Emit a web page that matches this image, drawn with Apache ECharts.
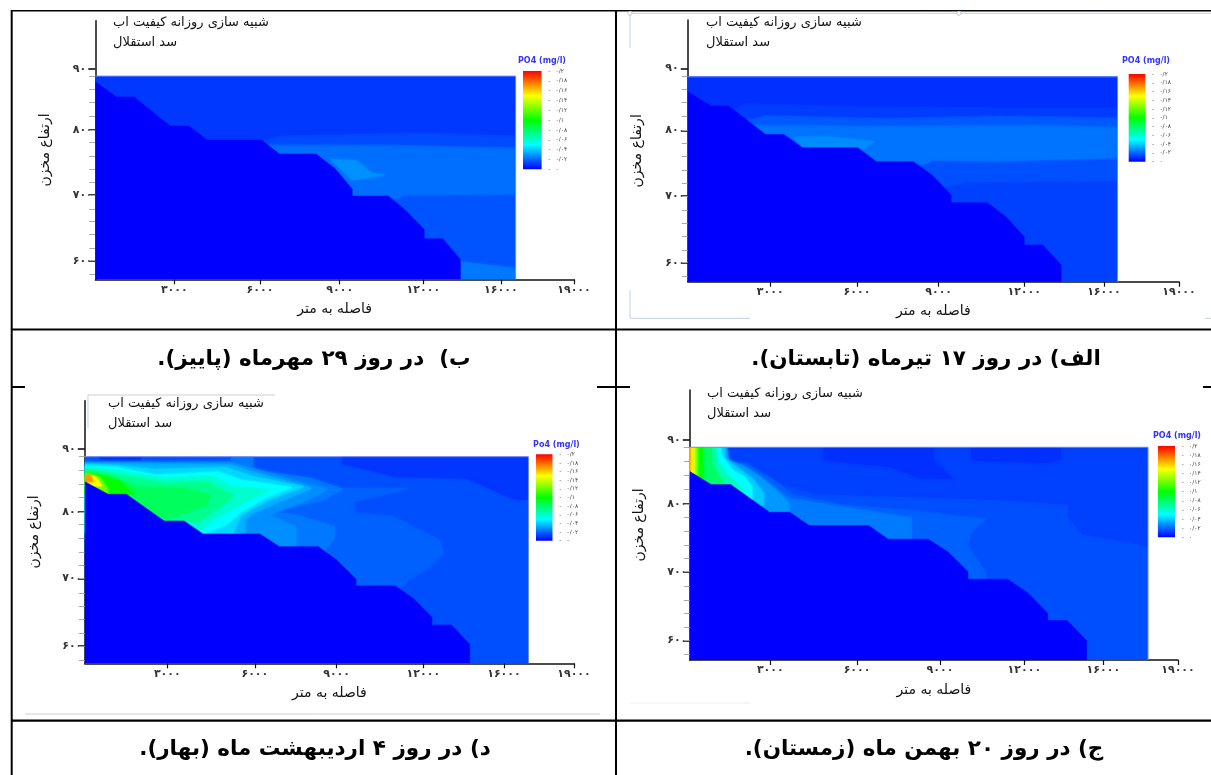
<!DOCTYPE html>
<html dir="rtl">
<head>
<meta charset="utf-8">
<style>html,body{margin:0;padding:0;background:#fff}#c{width:1211px;height:775px}</style>
<script src="https://cdn.jsdelivr.net/npm/echarts@6/dist/echarts.min.js"></script>
</head>
<body>
<div id="c"></div>
<script>
// ---------- texts ----------
const xTickLabels = ['۳۰۰۰','۶۰۰۰','۹۰۰۰','۱۲۰۰۰','۱۶۰۰۰','۱۹۰۰۰'];
const yTickLabels = ['۶۰','۷۰','۸۰','۹۰'];
const yTickValues = [60,70.3,80.4,90];
const yMinorValues = [57.9,60,62,64.1,66.1,68.1,70.3,72.3,74.3,76.4,78.5,80.4,82.6,84.7,86.8,88.85];
const legendValues = [0,0.02,0.04,0.06,0.08,0.1,0.12,0.14,0.16,0.18,0.2];
const legendLabels = ['۰','۰/۰۲','۰/۰۴','۰/۰۶','۰/۰۸','۰/۱','۰/۱۲','۰/۱۴','۰/۱۶','۰/۱۸','۰/۲'];
const xName = 'فاصله به متر', yName = 'ارتفاع مخزن';
const title1 = 'شبیه سازی روزانه کیفیت اب', title2 = 'سد استقلال';
const captionA = 'الف) در روز ۱۷ تیرماه (تابستان).';
const captionB = 'ب)  در روز ۲۹ مهرماه (پاییز).';
const captionC = 'ج) در روز ۲۰ بهمن ماه (زمستان).';
const captionD = 'د) در روز ۴ اردیبهشت ماه (بهار).';

// ---------- x tick positions along each panel's axis ----------
const xTicksA = [3180,6525,9675,12975,16050,18945];
const xTicksB = [3045,6345,9420,12645,15630,18450];
const xTicksC = [3105,6450,9645,12900,15945,18825];
const xTicksD = [3180,6555,9705,13050,16155,18855];

// ---------- bed profile of the reservoir [distance, elevation, ...] ----------
const bedA = [0,86.4, 900,84.19, 1575,84.19, 3000,79.8, 3705,79.8, 4425,77.76, 6555,77.76, 7275,75.6, 8700,75.6, 9420,73.54, 10155,70.45, 10155,69.26, 11550,69.26, 12270,67.1, 12975,64, 12975,62.73, 13695,62.73, 14400,59.64, 14400,57.07, 0,57.07];
const bedB = [0,87.97, 825,85.57, 1500,85.57, 2880,81.04, 3600,81.04, 4305,78.85, 6405,78.85, 7095,76.67, 8505,76.67, 9225,74.43, 9900,71.2, 9900,70.1, 11295,70.1, 11925,68.02, 12675,64.9, 12675,63.44, 13395,63.44, 14070,60.2, 14070,57.1, 0,57.1];
const bedC = [0,85.26, 825,83.32, 1575,83.32, 3075,79.18, 3855,79.18, 4605,77.19, 6900,77.19, 7650,75.15, 9195,75.15, 9945,73.3, 10725,70.31, 10725,69.17, 12255,69.17, 13050,67.08, 13800,64.09, 13800,62.99, 14550,62.99, 15300,60, 15300,57.1, 0,57.1];
const bedD = [0,85.03, 900,83.1, 1605,83.1, 3060,79.04, 3825,79.04, 4560,77.06, 6750,77.06, 7500,75.13, 9000,75.13, 9705,73.1, 10455,70.15, 10455,69.14, 11955,69.14, 12660,67.26, 13380,64.37, 13380,63.2, 14130,63.2, 14835,60.25, 14835,57.36, 0,57.36];

// ---------- PO4 regions: [concentration, [distance, elevation, ...]] painted in order ----------
const bandsA = [
 [0.0125,[0,57.07,16575,57.07,16575,88.7,0,88.7]],
 [0.0157,[0,70.96,9000,70.96,10200,71.99,10800,72.5,13500,72.6,16575,72.66,16575,88.7,0,88.7]],
 [0.0225,[0,75.2,8000,75.2,9150,75.23,9450,75.85,12000,75.7,16575,76.21,16575,88.7,0,88.7]],
 [0.0275,[4125,79.35,5400,79.45,7200,78.68,6750,77.65,4425,77.65]],
 [0.0176,[0,81.4,2000,81.4,2775,81.41,7500,81.26,13500,81.41,16575,81.1,16575,88.7,0,88.7]],
 [0.012,[0,82.28,2400,82.28,3000,82.9,7500,82.44,12000,82.8,16575,82.54,16575,88.7,0,88.7]],
 [0.0094,[0,83.67,1725,83.67,2175,84.7,6000,84.34,12000,84.09,16575,84.09,16575,88.7,0,88.7]]
];
const bandsB = [
 [0.0165,[0,57.1,16200,57.1,16200,88.85,0,88.85]],
 [0.0235,[14070,59.84,16200,58.8,16200,57.1,14070,57.1]],
 [0.0215,[0,69.74,11625,69.74,11925,70.26,16200,70.42,16200,88.85,0,88.85]],
 [0.0285,[9075,75.83,10050,75.63,10650,73.75,11175,73.39,9900,72.6]],
 [0.0147,[0,78.23,6975,78.23,11325,78.23,16200,77.81,16200,88.85,0,88.85]],
 [0.011,[0,78.85,6405,78.85,7125,79.64,12675,80.16,16200,79.64,16200,88.85,0,88.85]]
];
const bandsC = [
 [0.0155,[0,57.1,17670,57.1,17670,88.9,0,88.9]],
 [0.0125,[0,88.9,17670,88.9,17670,74.2,15150,76,14625,78.4,14625,80.4,11925,81.1,8925,81.5,6675,81.75,4875,82,3525,83.5,2625,85.5,1425,86.5,0,86.5]],
 [0.0094,[5175,88.9,9375,88.9,9375,87,10125,84.25,8925,84.25,7725,86,5175,87]],
 [0.0094,[10875,88.9,14295,88.9,14295,87.1,13800,86.6,10875,87]],
 [0.019,[11400,69.2,11400,70.3,10725,74.05,10800,76,11400,78.1,8925,79.27,5925,80.25,3975,81.75,3225,84,2175,86.5,0,86.5,0,69.2]],
 [0.024,[8550,75.1,8550,78.3,6225,79.75,3825,81.25,3075,83.5,2025,86.25,0,86.25,0,75.1]],
 [0.03,[0,88.9,1425,88.9,1500,87,2100,86,2700,84.5,3300,82.5,3825,80.5,3825,79.18,0,79.18]],
 [0.04,[0,88.9,1350,88.9,1350,87.25,1875,85.75,2400,84.25,2850,82,2850,80.25,0,80.25]],
 [0.05,[0,88.9,1200,88.9,1200,87.75,1650,85.5,2100,84.5,2400,83,2400,81,0,81]],
 [0.065,[0,88.9,1005,88.9,1050,87,1425,84.75,1725,83.75,2100,82,0,82]],
 [0.08,[0,88.9,855,88.9,855,86.5,1125,84.5,1425,83,0,83]],
 [0.1,[0,88.9,495,88.9,495,84,0,84]],
 [0.12,[0,88.9,300,88.9,300,84.5,0,84.5]],
 [0.14,[0,88.9,195,88.9,195,84.75,0,84.75]],
 [0.15,[0,88.9,105,88.9,105,85,0,85]],
 [0.165,[0,88.9,30,88.9,30,85.2,0,85.2]]
];
const bandsD = [
 [0.0155,[0,57.36,17100,57.36,17100,88.83,0,88.83]],
 [0.0105,[9930,88.83,17100,88.83,17100,82.34,16530,82.4,14730,85.53,12000,85.8,9930,87.8]],
 [0.011,[555,88.83,2205,88.83,2205,87.5,555,87.5]],
 [0.0165,[0,88.83,555,88.83,555,87.5,0,87.5]],
 [0.0165,[2205,88.83,5655,88.83,5655,87.5,2205,87.5]],
 [0.024,[5655,88.83,6480,88.83,6480,87.2,5655,87.5]],
 [0.019,[12255,69.04,12480,70.05,13230,71.83,13830,74.11,13680,76.14,11880,79.7,10380,80.2,10380,81.98,12480,84.01,9930,84.01,8130,85.28,6480,86.8,5730,87.82,0,88.1,0,69.04]],
 [0.0235,[9180,74.37,9630,76.4,9630,78.17,8130,79.95,7230,80.46,9180,82.23,9930,83.9,8730,85.53,6480,86.8,5730,88.07,0,88,0,74.37]],
 [0.028,[8130,75.13,8130,78.17,7080,79.95,8580,82.23,9330,83.86,8280,85.03,6480,87.05,5730,87.9,0,87.9,0,75.13]],
 [0.0345,[6180,77.06,6180,79.19,6480,80.2,8130,82.99,8730,84.01,7830,85.03,6330,86.7,5655,87.6,0,87.8,0,77.06]],
 [0.042,[5700,77.06,6030,79.95,7080,82.23,8430,84.26,6480,85.8,5430,87.2,2730,86.9,1230,87.5,0,87.7,0,77.06]],
 [0.05,[0,87.41,1230,87.21,2730,86.04,5130,86.55,6030,85.28,7980,84.16,6930,82.49,6030,80.46,5430,78.43,4560,77.06,0,77.06]],
 [0.06,[0,87.21,1230,86.71,3030,85.53,4830,85.79,5730,84.26,7080,83.76,6630,83,5580,80.71,4830,78.94,4380,77.47,0,77.47]],
 [0.072,[0,86.91,1230,86.04,3180,84.77,4680,85.03,5430,83.5,5730,83,5130,80.97,4380,78.94,3780,79.04,0,79.04]],
 [0.082,[0,86.55,930,85.79,2130,84.16,3780,84.01,4830,82.99,4680,81.47,3780,80.2,3180,79.44,2730,79.7,1680,83.1,0,83.1]],
 [0.1,[0,86.3,700,86,1400,85,1900,83.1,0,83.1]],
 [0.12,[0,86.3,555,85.69,855,84.26,900,83.1,0,83.1]],
 [0.15,[0,85.89,405,85.79,660,84.37,0,84.37]],
 [0.17,[0,86,210,86.04,330,85.03,0,85.03]]
];

// ---------- colour scale of the model legend ----------
const scaleStops = [[0,[0,0,255]],[0.05,[0,255,255]],[0.1,[0,255,0]],[0.15,[255,255,0]],[0.2,[255,0,0]]];
function po4Colour(v){
  for(let i=1;i<scaleStops.length;i++){
    if(v<=scaleStops[i][0]){
      const a=scaleStops[i-1],b=scaleStops[i],t=(v-a[0])/(b[0]-a[0]);
      return 'rgb('+a[1].map((c,k)=>Math.round(c+(b[1][k]-c)*t)).join(',')+')';
    }
  }
  return 'rgb(255,0,0)';
}

// ---------- layout (pixels) ----------
const panels = [
 {bands:bandsB,bed:bedB,ticks:xTicksB,xMax:18450,yMin:57.1,yMax:97.5,l:95.3,r:574,t:20.7,b:279.3,titleX:113,titleY:[16,36],
  legName:'PO4 (mg/l)',legX:542,legY:62,barL:523,barR:541.6,barT:71,barB:169.3,caption:captionB,capX:314,capY:357},
 {bands:bandsA,bed:bedA,ticks:xTicksA,xMax:18945,yMin:57.07,yMax:97.47,l:687.8,r:1179,t:20,b:281.7,titleX:706,titleY:[16,36],
  legName:'PO4 (mg/l)',legX:1146,legY:62,barL:1128.7,barR:1145.4,barT:74,barB:161.7,caption:captionA,capX:926,capY:357},
 {bands:bandsD,bed:bedD,ticks:xTicksD,xMax:18855,yMin:57.36,yMax:97.36,l:84.8,r:574,t:400.7,b:663.3,titleX:108,titleY:[397,417],
  legName:'Po4 (mg/l)',legX:556.4,legY:445.7,barL:536,barR:552.5,barT:454.3,barB:540.7,caption:captionD,capX:315,capY:747},
 {bands:bandsC,bed:bedC,ticks:xTicksC,xMax:18825,yMin:57.1,yMax:97.46,l:689.8,r:1178,t:390,b:660,titleX:707,titleY:[387,407],
  legName:'PO4 (mg/l)',legX:1177,legY:437,barL:1157.9,barR:1175,barT:446,barB:537.3,caption:captionC,capX:924,capY:747}
];
const xMinorFractions = [0.118,0.272,0.427,0.581,0.728,0.874];
const FONT = '"DejaVu Sans"';
const W = 1211, H = 775;

const option = {animation:false,backgroundColor:'#fff',grid:[],xAxis:[],yAxis:[],series:[],title:[]};

panels.forEach(p=>{
  const g = option.grid.length;
  option.grid.push({left:p.l,top:p.t,width:p.r-p.l,height:p.b-p.t,containLabel:false});
  const x0 = option.xAxis.length, y0 = option.yAxis.length;
  const xLabel = v => { const i=p.ticks.indexOf(v); return i<0?'':xTickLabels[i]; };
  const yLabel = v => { const i=yTickValues.indexOf(v); return i<0?'':yTickLabels[i]; };
  option.xAxis.push({
    type:'value',gridIndex:g,min:0,max:p.xMax,position:'bottom',
    name:xName,nameLocation:'middle',nameGap:23,
    nameTextStyle:{fontFamily:FONT,fontSize:14,color:'#111'},
    axisLine:{show:true,onZero:false,lineStyle:{color:'#111',width:1.5}},
    axisTick:{show:true,length:5,customValues:p.ticks,lineStyle:{color:'#111',width:1.2}},
    axisLabel:{show:true,customValues:p.ticks,formatter:xLabel,margin:5,fontFamily:FONT,fontSize:11,fontWeight:'bold',color:'#333',hideOverlap:false,showMinLabel:true,showMaxLabel:true},
    splitLine:{show:false}
  });
  option.xAxis.push({
    type:'value',gridIndex:g,min:0,max:p.xMax,position:'bottom',
    axisLine:{show:false},axisLabel:{show:false},splitLine:{show:false},
    axisTick:{show:true,inside:true,length:2,customValues:xMinorFractions.map(f=>f*p.xMax),lineStyle:{color:'#333',width:1}}
  });
  option.yAxis.push({
    type:'value',gridIndex:g,min:p.yMin,max:p.yMax,position:'left',
    name:yName,nameLocation:'middle',nameGap:43,nameRotate:90,
    nameTextStyle:{fontFamily:FONT,fontSize:14,color:'#111'},
    axisLine:{show:true,onZero:false,lineStyle:{color:'#111',width:1.5}},
    axisTick:{show:true,length:7,customValues:yTickValues,lineStyle:{color:'#111',width:1.6}},
    axisLabel:{show:true,customValues:yTickValues,formatter:yLabel,margin:9,fontFamily:FONT,fontSize:11,fontWeight:'bold',color:'#333'},
    splitLine:{show:false}
  });
  option.yAxis.push({
    type:'value',gridIndex:g,min:p.yMin,max:p.yMax,position:'left',
    axisLine:{show:false},axisLabel:{show:false},splitLine:{show:false},
    axisTick:{show:true,length:6,customValues:yMinorValues,lineStyle:{color:'#aaa',width:1}}
  });
  const plotRect = p.bands[0][1];
  const layers = p.bands.concat([[0,p.bed]]);
  option.series.push({
    type:'custom',xAxisIndex:x0,yAxisIndex:y0,silent:true,clip:false,
    data:layers.concat([[null,plotRect]]).map(b=>[b[0]]),
    renderItem:(params,api)=>{
      if(params.dataIndex===layers.length){
        // thin pale edge on the top and right of the model domain
        const e=plotRect, pts=[[e[6],e[7]],[e[4],e[5]],[e[2],e[3]]].map(q=>api.coord(q));
        return {type:'polyline',shape:{points:pts},style:{fill:'none',stroke:'#6f8cff',lineWidth:1}};
      }
      const b = layers[params.dataIndex], pts=[];
      for(let i=0;i<b[1].length;i+=2) pts.push(api.coord([b[1][i],b[1][i+1]]));
      const col = po4Colour(b[0]);
      const inner = params.dataIndex>0 && params.dataIndex<layers.length-1;
      const clipPts=[];
      for(let i=0;i<plotRect.length;i+=2) clipPts.push(api.coord([plotRect[i],plotRect[i+1]]));
      return {type:'polygon',shape:{points:pts},
        clipPath:{type:'polygon',shape:{points:clipPts}},
        style:inner
        ?{fill:col,stroke:col,lineWidth:0.6,shadowBlur:3,shadowColor:col}
        :{fill:col,stroke:col,lineWidth:0.6}};
    }
  });
  // legend bar on its own small axis
  const g2 = option.grid.length;
  option.grid.push({left:p.barL,top:p.barT,width:p.barR-p.barL,height:p.barB-p.barT});
  const x2 = option.xAxis.length, y2 = option.yAxis.length;
  option.xAxis.push({type:'category',gridIndex:g2,data:[p.legName],show:false});
  option.yAxis.push({
    type:'value',gridIndex:g2,min:0,max:0.2,interval:0.02,position:'right',offset:7,
    axisLine:{show:false},splitLine:{show:false},
    axisTick:{show:true,length:1.5,inside:false,lineStyle:{color:'#aaa',width:1}},
    axisLabel:{show:true,margin:7,fontFamily:FONT,fontSize:6,color:'#444',
      formatter:v=>{const i=legendValues.findIndex(q=>Math.abs(q-v)<1e-6);return i<0?'':legendLabels[i];}}
  });
  option.series.push({
    type:'bar',xAxisIndex:x2,yAxisIndex:y2,barWidth:'100%',silent:true,data:[0.2],
    itemStyle:{color:new echarts.graphic.LinearGradient(0,1,0,0,
      scaleStops.map(s=>({offset:s[0]/0.2,color:'rgb('+s[1].join(',')+')'})))}
  });
  // texts
  option.title.push({text:title1,left:p.titleX,top:p.titleY[0],padding:0,textStyle:{fontFamily:FONT,fontSize:13,fontWeight:'normal',color:'#111'}});
  option.title.push({text:title2,left:p.titleX,top:p.titleY[1],padding:0,textStyle:{fontFamily:FONT,fontSize:13,fontWeight:'normal',color:'#111'}});
  option.title.push({text:p.legName,left:p.legX,top:p.legY-5,padding:0,textAlign:'center',textStyle:{fontFamily:FONT,fontSize:8,fontWeight:'bold',color:'#3333ff'}});
  option.title.push({text:p.caption,left:p.capX,top:p.capY-9,padding:0,textAlign:'center',textStyle:{fontFamily:FONT,fontSize:21.5,fontWeight:'bold',color:'#000'}});
});

// table rules and the faint frame fragments around the pasted charts
const rule=(x1,y1,x2,y2,w,c)=>({type:'line',silent:true,z:50,shape:{x1,y1,x2,y2},style:{stroke:c||'#000',lineWidth:w}});
const dot=(cx,cy)=>({type:'circle',silent:true,z:50,shape:{cx,cy,r:2},style:{fill:'#fff',stroke:'#b8c8d8',lineWidth:1}});
option.graphic = {elements:[
  rule(11,10.7,W,10.7,1.4), rule(11.7,10,11.7,H,2), rule(616,10,616,H,2),
  rule(11,329.5,W,329.5,2.2), rule(11,720.7,W,720.7,2.2),
  rule(11,387,25,387,2), rule(597,387,630,387,2), rule(1203,387,W,387,2),
  rule(630,13.3,W,13.3,1,'#c3d1e0'), rule(630,13,630,48,1,'#c3d1e0'), rule(630,290,630,318,1,'#c3d1e0'),
  rule(630,318.3,750,318.3,1,'#c3d1e0'), rule(1205,318.3,W,318.3,1,'#c3d1e0'),
  dot(630,13.3), dot(959,13.3),
  rule(88,395,275,395,1,'#c3d1e0'), rule(88,395,88,428,1,'#c3d1e0'),
  rule(25,714,600,714,1,'#cfcfd4'), rule(630,703,750,703,1,'#eeeeee')
]};

const chart = echarts.init(document.getElementById('c'),null,{renderer:'canvas',width:W,height:H});
chart.setOption(option);
</script>
</body>
</html>
